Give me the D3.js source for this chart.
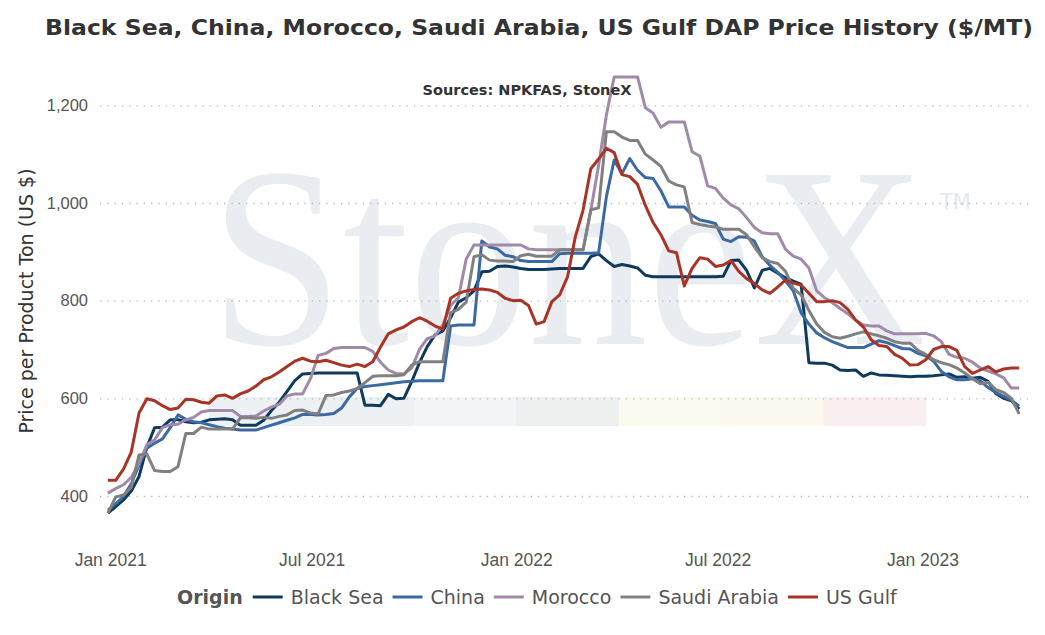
<!DOCTYPE html>
<html>
<head>
<meta charset="utf-8">
<script src="https://cdn.jsdelivr.net/npm/d3@7"></script>
<style>
body { margin: 0; background: #fff; }
svg { display: block; font-family: "DejaVu Sans", Verdana, sans-serif; }
</style>
</head>
<body>
<div id="chart"></div>
<script>
// weekly DAP prices ($/MT), first week ending 30 Dec 2020
var blackSea = [
    365,378,392,410,440,500,540,541,556,556,
    552,550,551,556,557,558,556,545,545,545,
    555,575,592,614,636,650,651,652,652,652,
    652,652,652,586,586,585,608,599,600,634,
    673,706,730,738,765,797,806,820,859,860,
    870,871,869,866,864,864,864,865,866,866,
    866,866,890,896,882,870,874,871,867,852,
    849,849,849,849,849,849,849,849,849,850,
    882,883,862,826,862,866,856,847,840,834,
    673,672,672,668,658,657,658,645,652,648,
    647,646,645,644,645,645,646,648,650,643,
    644,641,643,635,610,600,595,578
];
var china = [
    371,384,399,425,464,498,508,517,540,566,
    557,552,550,546,542,539,537,535,535,535,
    540,545,550,555,560,567,567,566,567,569,
    580,603,620,624,626,628,630,632,634,635,
    636,636,636,636,748,750,750,750,922,910,
    906,893,890,882,880,880,880,880,896,897,
    897,897,897,898,1013,1088,1060,1091,1067,1052,
    1050,1025,992,992,992,975,965,962,958,926,
    921,931,930,922,890,872,858,840,820,775,
    752,734,724,716,710,704,704,704,711,718,
    714,708,702,701,692,687,676,655,644,638,
    638,640,636,622,612,604,596,584
];
var morocco = [
    406,415,423,438,467,505,515,540,546,547,
    556,561,572,575,575,575,575,563,563,564,
    574,582,588,605,609,609,640,688,692,702,
    704,704,704,704,696,674,658,651,650,662,
    700,722,728,750,790,806,885,914,914,914,
    914,914,914,914,906,904,904,904,904,904,
    904,904,985,1077,1180,1258,1258,1258,1258,1195,
    1184,1155,1166,1166,1166,1105,1096,1035,1030,1010,
    996,988,970,950,939,937,937,905,891,885,
    867,820,806,796,784,773,760,750,748,748,
    738,732,732,732,732,733,728,716,690,684,
    682,674,662,656,650,642,621,621
];
var saudiArabia = [
    365,398,402,418,484,486,452,450,450,460,
    528,528,541,537,537,537,537,560,560,559,
    561,559,563,566,575,576,570,568,606,607,
    612,615,620,632,645,646,646,646,648,668,
    675,675,675,675,775,782,797,890,894,883,
    881,881,880,892,895,891,891,891,904,904,
    904,904,986,990,1146,1146,1135,1128,1128,1100,
    1088,1075,1045,1037,1033,960,956,953,951,946,
    946,946,935,910,888,880,876,860,825,812,
    780,752,735,726,723,727,732,736,732,728,
    723,716,713,713,698,690,679,673,669,662,
    652,640,630,633,618,612,600,568
];
var usGulf = [
    432,432,455,490,570,599,595,585,577,580,
    598,597,592,590,605,607,600,609,615,625,
    638,644,654,665,676,682,676,675,678,673,
    668,665,670,665,675,705,732,740,746,757,
    765,758,748,742,805,815,820,823,824,822,
    817,805,800,801,790,752,757,798,812,848,
    930,985,1070,1090,1112,1103,1058,1054,1038,995,
    960,935,902,898,830,866,888,885,870,873,
    882,860,845,835,822,815,828,842,836,832,
    815,798,798,800,796,782,760,746,720,708,
    706,690,682,668,669,679,700,706,706,698,
    665,651,658,665,654,660,662,662
];

var seriesNames  = ["Black Sea", "China", "Morocco", "Saudi Arabia", "US Gulf"];
var seriesValues = [blackSea, china, morocco, saudiArabia, usGulf];
var seriesColors = ["#0e3a5e", "#3a69a3", "#a08aa8", "#808080", "#a93426"];

var yTicks = [400, 600, 800, 1000, 1200];
var xTicks = [Date.UTC(2021, 0, 1), Date.UTC(2021, 6, 1), Date.UTC(2022, 0, 1), Date.UTC(2022, 6, 1), Date.UTC(2023, 0, 1)].map(function(t){ return new Date(t); });

var TITLE = "Black Sea, China, Morocco, Saudi Arabia, US Gulf DAP Price History ($/MT)";
var SUBTITLE = "Sources: NPKFAS, StoneX";
var Y_TITLE = "Price per Product Ton (US $)";

var width = 1045, height = 635;
var plot = {left: 100, right: 1028};

var startDate = new Date(Date.UTC(2020, 11, 30));
var dates = d3.range(blackSea.length).map(function(i){ return d3.utcDay.offset(startDate, 7 * i); });

/* SVG */
var svg = d3.select("#chart")
    .append("svg")
        .attr("width", width)
        .attr("height", height);

/* Scales */
var x = d3.scaleUtc()
    .domain([new Date(Date.UTC(2020, 11, 22)), new Date(Date.UTC(2023, 3, 5))])
    .range([99, 1027]);
var y = d3.scaleLinear()
    .domain([400, 1200])
    .range([496, 105.3]);

/* Watermark - squeezed horizontally with a transform */
var mark = svg.append("g").attr("class", "watermark");
mark.append("text")
    .attr("transform", "translate(210,344) scale(0.925,1)")
    .style("font-family", "'Liberation Serif', 'DejaVu Serif', serif")
    .style("font-size", "258px")
    .style("fill", "#e9edf1")
    .text("StoneX");
mark.append("text")
    .attr("x", 940)
    .attr("y", 209)
    .style("font-size", "21px")
    .style("fill", "#e4e9ee")
    .text("TM");

var bandColors = ["#edf1f4", "#edf1f4", "#f1f5f8", "#ecf0ee", "#fbfaef", "#fbf8ee", "#f9eef0"];
mark.selectAll(".band")
    .data(bandColors)
    .enter()
    .append("rect")
        .attr("class", "band")
        .attr("x", function(d, i){ return 209 + i * 102.4; })
        .attr("y", 397)
        .attr("width", 102.9)
        .attr("height", 29)
        .style("fill", function(d){ return d; });

/* Y axis + grid */
var yAxis = svg.append("g")
    .attr("transform", "translate(" + plot.left + ",0)")
    .call(d3.axisLeft(y)
        .tickValues(yTicks)
        .tickSize(-(plot.right - plot.left))
        .tickPadding(12)
        .tickFormat(d3.format(",")));
yAxis.select(".domain").remove();
yAxis.selectAll("line")
    .style("stroke", "#b8b8b8")
    .style("stroke-width", 1.3)
    .style("stroke-dasharray", "1.3,6");
yAxis.selectAll("text")
    .style("font-size", "16.5px")
    .style("fill", "#555");

/* X axis */
var xAxis = svg.append("g")
    .attr("transform", "translate(0,550)")
    .call(d3.axisBottom(x)
        .tickValues(xTicks)
        .tickSize(0)
        .tickPadding(4)
        .tickFormat(d3.utcFormat("%b %Y")));
xAxis.select(".domain").remove();
xAxis.selectAll("text")
    .style("font-size", "17.5px")
    .style("fill", "#555");

/* Lines */
var line = d3.line()
    .x(function(d, i){ return x(dates[i]); })
    .y(function(d){ return y(d); });

svg.append("g")
    .attr("class", "lines")
    .selectAll("path")
    .data(seriesValues)
    .enter()
    .append("path")
        .attr("d", line)
        .style("fill", "none")
        .style("stroke", function(d, i){ return seriesColors[i]; })
        .style("stroke-width", 3)
        .style("stroke-linejoin", "round");

/* Titles */
svg.append("text")
    .attr("x", 539)
    .attr("y", 35)
    .attr("text-anchor", "middle")
    .attr("textLength", 988)
    .attr("lengthAdjust", "spacingAndGlyphs")
    .style("font-size", "21.5px")
    .style("font-weight", "bold")
    .style("fill", "#333")
    .text(TITLE);

svg.append("text")
    .attr("x", 527)
    .attr("y", 95)
    .attr("text-anchor", "middle")
    .style("font-size", "14.5px")
    .style("font-weight", "bold")
    .style("fill", "#333")
    .text(SUBTITLE);

svg.append("text")
    .attr("transform", "translate(33,301) rotate(-90)")
    .attr("text-anchor", "middle")
    .style("font-size", "19px")
    .style("fill", "#333")
    .text(Y_TITLE);

/* Legend */
var legend = svg.append("g").attr("class", "legend");
var lx = 177, ly = 604;
var head = legend.append("text")
    .attr("x", lx)
    .attr("y", ly)
    .style("font-size", "19px")
    .style("font-weight", "bold")
    .style("fill", "#555")
    .text("Origin");
lx += head.node().getComputedTextLength() + 10;
seriesNames.forEach(function(name, i){
    legend.append("line")
        .attr("x1", lx).attr("x2", lx + 30)
        .attr("y1", ly - 7).attr("y2", ly - 7)
        .style("stroke", seriesColors[i])
        .style("stroke-width", 3);
    lx += 38;
    var t = legend.append("text")
        .attr("x", lx)
        .attr("y", ly)
        .style("font-size", "19px")
        .style("fill", "#555")
        .text(name);
    lx += t.node().getComputedTextLength() + 9;
});
</script>
</body>
</html>
